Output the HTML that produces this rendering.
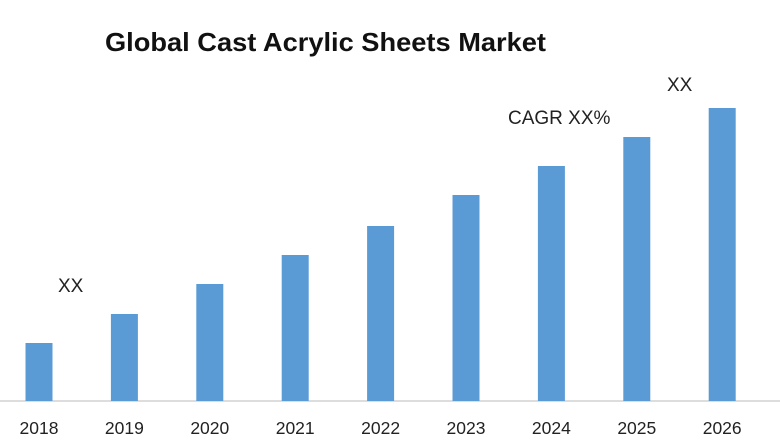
<!DOCTYPE html>
<html><head><meta charset="utf-8"><style>
body{margin:0;background:#fff;width:780px;height:440px;overflow:hidden;font-family:"Liberation Sans",sans-serif}
</style></head><body>
<svg width="780" height="440" id="c">
<text x="105" y="51" font-size="26" font-weight="bold" fill="#111" textLength="441" lengthAdjust="spacingAndGlyphs">Global Cast Acrylic Sheets Market</text>
<line x1="0" y1="401" x2="780" y2="401" stroke="#bbb" stroke-width="1"/>
<text x="58" y="292" font-size="19" fill="#222">XX</text>
<text x="508" y="124" font-size="19" fill="#222">CAGR XX%</text>
<text x="667" y="91" font-size="19" fill="#222">XX</text>
</svg>
<script>
const categories=["2018","2019","2020","2021","2022","2023","2024","2025","2026"];
const values=[58,87,117,146,175,206,235,264,293];
const svg=document.getElementById('c');
const NS="http://www.w3.org/2000/svg";
const base=401, x0=39, step=85.4, bw=27;
const xs=i=>x0+i*step;
const ys=v=>base-v;
categories.forEach((c,i)=>{
  const r=document.createElementNS(NS,'rect');
  r.setAttribute('x',xs(i)-bw/2);r.setAttribute('y',ys(values[i]));
  r.setAttribute('width',bw);r.setAttribute('height',base-ys(values[i]));
  r.setAttribute('fill','#5b9bd5');
  
  
  svg.appendChild(r);
  const t=document.createElementNS(NS,'text');
  t.setAttribute('x',xs(i));t.setAttribute('y',434);
  t.setAttribute('text-anchor','middle');t.setAttribute('font-size','17.5');t.setAttribute('fill','#222');
  t.textContent=c;
  
  
  svg.appendChild(t);
});
</script>
</body></html>
